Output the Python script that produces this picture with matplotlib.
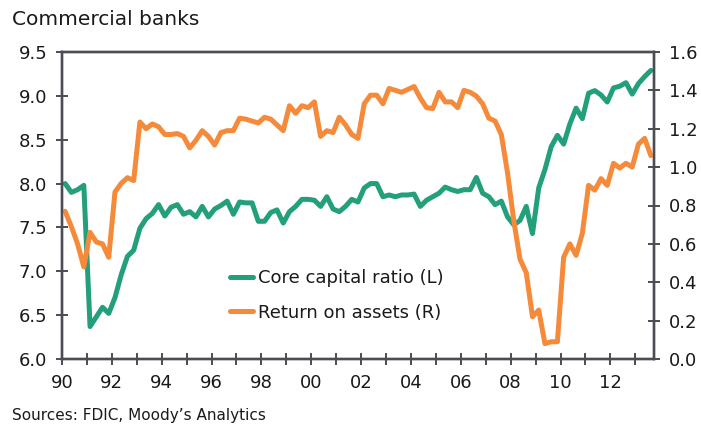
import matplotlib
matplotlib.use("Agg")
import matplotlib.pyplot as plt
import numpy as np

# ---- data (quarterly, 1990Q1 .. 2013Q3) ----
years = list(range(1990, 2014))
year_labels = ["%02d" % (y % 100) if y % 2 == 0 else "" for y in years]

core_capital = [
    8.00, 7.90, 7.93, 7.98, 6.37, 6.48, 6.59, 6.52, 6.70, 6.96, 7.17, 7.24,
    7.49, 7.60, 7.66, 7.76, 7.63, 7.73, 7.76, 7.65, 7.68, 7.62, 7.74, 7.62,
    7.71, 7.75, 7.80, 7.65, 7.79, 7.78, 7.78, 7.57, 7.57, 7.67, 7.70, 7.55,
    7.68, 7.74, 7.82, 7.82, 7.81, 7.74, 7.85, 7.71, 7.68, 7.74, 7.82, 7.79,
    7.95, 8.00, 8.00, 7.85, 7.87, 7.85, 7.87, 7.87, 7.88, 7.74, 7.81, 7.85,
    7.89, 7.96, 7.93, 7.91, 7.93, 7.93, 8.07, 7.89, 7.85, 7.76, 7.80, 7.62,
    7.53, 7.58, 7.74, 7.43, 7.95, 8.16, 8.42, 8.55, 8.45, 8.68, 8.86, 8.74,
    9.03, 9.06, 9.01, 8.93, 9.09, 9.11, 9.15, 9.02, 9.14, 9.22, 9.29,
]

return_on_assets = [
    0.77, 0.69, 0.60, 0.48, 0.66, 0.61, 0.60, 0.53, 0.87, 0.915, 0.945, 0.93,
    1.235, 1.20, 1.225, 1.21, 1.17, 1.17, 1.175, 1.16, 1.10, 1.14, 1.19, 1.16,
    1.115, 1.18, 1.19, 1.19, 1.255, 1.25, 1.24, 1.23, 1.26, 1.25, 1.22, 1.19,
    1.32, 1.28, 1.32, 1.31, 1.34, 1.16, 1.19, 1.18, 1.26, 1.22, 1.17, 1.15,
    1.33, 1.375, 1.375, 1.33, 1.41, 1.40, 1.39, 1.405, 1.42, 1.36, 1.31, 1.305,
    1.39, 1.34, 1.34, 1.31, 1.40, 1.39, 1.37, 1.33, 1.255, 1.24, 1.17, 0.97,
    0.72, 0.52, 0.45, 0.22, 0.255, 0.08, 0.09, 0.09, 0.53, 0.60, 0.54, 0.655,
    0.905, 0.88, 0.94, 0.905, 1.02, 0.995, 1.02, 1.00, 1.12, 1.15, 1.06,
]

left_ticks = [6.0, 6.5, 7.0, 7.5, 8.0, 8.5, 9.0, 9.5]
right_ticks = [0.0, 0.2, 0.4, 0.6, 0.8, 1.0, 1.2, 1.4, 1.6]

# ---- style ----
GREEN = "#23a07b"
ORANGE = "#f58a3a"
AXIS = "#4a4d52"
TEXT = "#1a1a1a"
plt.rcParams["font.family"] = ["DejaVu Sans"]

W, H = 701, 430
fig = plt.figure(figsize=(W / 100, H / 100), dpi=100)
L, R, T, B = 62, 654, 52, 359
ax = fig.add_axes([L / W, 1 - B / H, (R - L) / W, (B - T) / H])
ax2 = ax.twinx()

x = np.arange(len(core_capital))
l1, = ax.plot(x, core_capital, color=GREEN, lw=3.6,
              solid_joinstyle="round", solid_capstyle="round", label="Core capital ratio (L)")
l2, = ax2.plot(x, return_on_assets, color=ORANGE, lw=3.6,
               solid_joinstyle="round", solid_capstyle="round", label="Return on assets (R)")

ax.set_xlim(-0.5, 94.5)
ax.set_ylim(6.0, 9.5)
ax2.set_ylim(0.0, 1.6)

xt = [-0.5 + 4 * i for i in range(len(years))]
ax.set_xticks(xt)
ax.set_xticklabels(year_labels)
ax.set_yticks(left_ticks)
ax.set_yticklabels(["%.1f" % v for v in left_ticks])
ax2.set_yticks(right_ticks)
ax2.set_yticklabels(["%.1f" % v for v in right_ticks])

for a in (ax, ax2):
    for s in a.spines.values():
        s.set_color(AXIS)
        s.set_linewidth(1.7)
ax.tick_params(axis="x", direction="inout", length=8, width=1.4, color=AXIS,
               labelsize=13, labelcolor=TEXT, pad=6.5)
ax.tick_params(axis="y", direction="inout", length=9, width=1.4, color=AXIS,
               labelsize=13, labelcolor=TEXT, pad=6)
ax2.tick_params(axis="y", direction="inout", length=9, width=1.4, color=AXIS,
                labelsize=13, labelcolor=TEXT, pad=6)

leg = ax.legend(handles=[l1, l2], loc="center left",
                bbox_to_anchor=(230 / W, 1 - 295.5 / H), bbox_transform=fig.transFigure,
                frameon=False, fontsize=13, handlelength=1.3, handletextpad=0.25,
                labelspacing=0.9, borderpad=0, borderaxespad=0)
for t in leg.get_texts():
    t.set_color(TEXT)

fig.text(12 / W, 1 - 25 / H, "Commercial banks", fontsize=14.5, color=TEXT,
         ha="left", va="baseline")
fig.text(12 / W, 1 - 420 / H, "Sources: FDIC, Moody\u2019s Analytics", fontsize=11,
         color=TEXT, ha="left", va="baseline")

fig.savefig("out.png", dpi=100)
